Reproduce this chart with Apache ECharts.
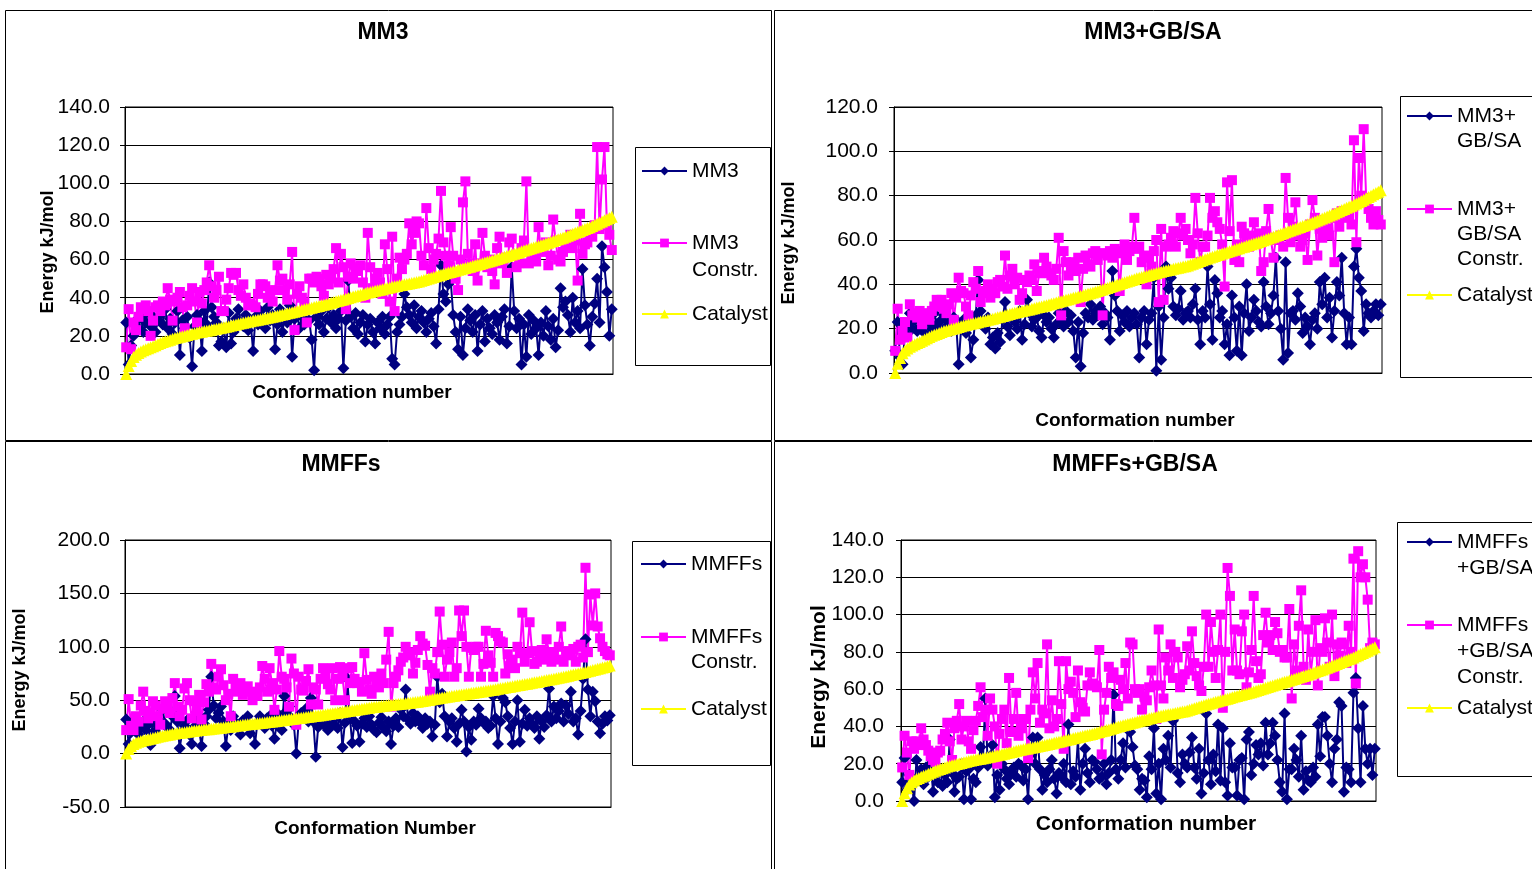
<!DOCTYPE html>
<html><head><meta charset="utf-8">
<script src="https://cdn.jsdelivr.net/npm/echarts@6/dist/echarts.min.js"></script>
<style>html,body{margin:0;padding:0;background:#fff}#c{width:1532px;height:869px}</style>
</head><body><div id="c"></div>
<script>
// ---------- DATA ----------
const catalyst = [
0,4.2,6.8,8.9,10.1,11.0,11.8,12.4,13.0,13.5,
14.0,14.6,15.1,15.7,16.2,16.8,17.2,17.6,18.0,18.5,
18.9,19.2,19.5,19.8,20.1,20.4,20.8,21.1,21.4,21.7,
22.0,22.2,22.5,22.7,22.9,23.2,23.5,23.7,24.0,24.3,
24.5,24.8,25.1,25.4,25.7,26.0,26.3,26.6,26.9,27.2,
27.5,27.7,28.0,28.2,28.5,28.7,29.0,29.2,29.5,29.8,
30.0,30.3,30.6,30.9,31.2,31.5,31.8,32.1,32.4,32.7,
33.0,33.3,33.6,33.9,34.2,34.5,34.8,35.1,35.4,35.7,
36.0,36.3,36.7,37.0,37.4,37.7,38.1,38.4,38.8,39.1,
39.5,39.9,40.2,40.6,40.9,41.3,41.6,42.0,42.3,42.7,
43.0,43.3,43.6,43.9,44.2,44.5,44.8,45.1,45.4,45.7,
46.0,46.2,46.5,46.7,47.0,47.2,47.5,47.7,48.0,48.2,
48.5,48.9,49.3,49.7,50.1,50.5,50.9,51.3,51.7,52.1,
52.5,52.8,53.2,53.5,53.9,54.2,54.6,54.9,55.3,55.6,
56.0,56.3,56.7,57.0,57.4,57.7,58.1,58.4,58.8,59.1,
59.5,59.9,60.3,60.7,61.1,61.5,61.9,62.3,62.7,63.1,
63.5,63.9,64.3,64.7,65.1,65.5,65.9,66.3,66.7,67.1,
67.5,67.9,68.4,68.8,69.3,69.7,70.2,70.6,71.1,71.5,
72.0,72.5,73.0,73.5,74.0,74.5,75.0,75.5,76.0,76.5,
77.0,77.6,78.2,78.8,79.4,80.0,80.6,81.2,81.8,82.5];

const mm3 = [
27,5,15,20,28,24,30,22,27,33,
25,30,22,28,31,26,34,24,29,21,
27,33,10,28,24,30,19,4,25,31,
28,12,33,26,48,35,30,27,15,17,
24,14,32,16,22,29,34,27,25,31,
23,27,12,30,26,33,29,24,35,28,
31,13,26,34,22,30,27,36,9,29,
32,24,30,26,35,28,18,2,30,26,
33,22,29,35,27,31,24,29,33,3,
28,49,30,24,32,21,27,31,17,26,
29,22,16,27,24,30,21,26,30,8,
5,22,26,30,42,35,31,27,36,24,
30,33,27,22,29,32,25,16,34,57,
42,38,47,49,31,22,13,30,10,24,
34,28,22,31,12,26,33,17,29,24,
21,31,27,18,30,34,16,25,56,33,
24,29,5,26,9,31,21,28,24,10,
27,20,33,25,18,29,14,23,45,35,
38,31,22,40,27,33,24,55,36,26,
15,30,37,50,27,67,56,43,20,34];

const mm3Constr = [
14,34,13,27,23,30,35,34,36,33,
20,28,35,36,33,38,36,45,39,28,
38,40,43,35,24,36,41,45,38,27,
43,37,44,48,57,46,40,44,51,33,
33,39,45,53,52,53,44,41,47,40,
36,37,36,35,42,47,47,46,40,43,
38,44,57,49,50,44,39,47,64,23,
42,46,40,37,27,50,50,48,51,50,
46,41,52,47,50,55,66,48,63,56,
34,51,58,50,56,54,57,48,40,74,
56,45,50,53,48,42,68,55,38,72,
33,50,61,55,60,63,79,68,74,80,
79,62,57,87,66,55,60,63,71,96,
69,62,57,77,62,50,44,60,90,101,
63,58,54,68,49,58,74,62,56,60,
54,47,66,72,58,61,53,69,71,62,
56,58,66,70,101,58,62,60,59,77,
64,66,69,57,62,81,70,60,59,64,
68,67,73,66,70,49,84,63,68,69,
74,72,78,119,76,102,119,78,73,65];

const mm3Gb = [
10,23,7,4,18,22,27,20,24,19,
25,21,18,26,23,20,27,22,19,24,
26,21,23,19,25,22,4,20,24,18,
22,7,15,26,42,28,23,20,25,13,
16,11,18,14,24,32,21,17,26,23,
20,28,15,22,33,27,21,24,25,19,
16,26,23,25,20,16,22,27,24,21,
28,23,26,19,7,23,3,18,27,25,
31,24,28,26,30,22,27,25,15,46,
35,28,19,26,23,28,21,25,27,22,
7,25,28,13,24,27,43,1,30,6,
25,48,38,43,30,26,29,37,24,27,
28,25,31,38,24,13,28,25,48,31,
15,42,36,25,28,13,22,8,35,25,
10,30,8,27,40,19,25,33,28,23,
21,41,30,22,27,35,52,28,20,6,
50,9,27,28,24,36,30,18,25,21,
13,24,27,20,41,31,43,25,34,16,
28,41,35,52,27,13,25,13,48,56,
43,37,19,31,27,25,28,31,26,31];

const mm3GbConstr = [
10,29,15,19,23,16,31,26,27,25,
28,22,26,27,24,28,30,33,32,33,
29,27,31,36,24,34,43,37,36,30,
26,35,41,38,46,32,36,37,40,34,
38,36,41,42,39,53,38,44,47,40,
43,33,36,42,41,44,42,49,37,45,
46,52,48,45,44,42,47,61,26,55,
50,44,48,50,46,52,32,47,53,49,
48,54,55,51,54,26,54,53,55,52,
56,55,37,54,58,51,55,57,70,56,
57,50,53,40,52,48,55,60,32,65,
33,57,58,61,64,57,63,70,62,65,
60,54,58,79,63,50,57,57,62,79,
70,73,68,65,58,39,86,64,87,51,
58,50,66,63,60,57,62,68,61,63,
46,50,64,74,60,52,61,60,62,57,
88,70,59,66,77,62,57,60,63,51,
67,78,70,53,65,61,69,65,62,70,
50,72,66,73,70,72,71,67,105,59,
97,80,110,79,74,70,67,73,69,67];

const mmffs = [
32,9,20,25,28,18,24,30,22,27,
8,33,21,26,30,41,28,24,22,35,
54,30,5,20,26,31,18,9,25,33,
22,7,28,35,41,72,45,33,38,44,
30,7,26,22,35,29,24,18,31,27,
35,19,26,9,29,35,30,24,33,35,
26,14,28,36,22,54,40,44,33,27,
0,31,38,35,42,30,52,30,-3,25,
33,28,35,22,30,27,33,24,38,6,
29,70,35,10,30,26,11,28,33,25,
35,27,22,20,29,34,24,21,30,9,
26,33,25,41,35,60,32,28,38,30,
35,29,24,33,28,30,16,27,72,48,
56,35,16,30,33,24,11,28,41,30,
2,25,13,30,27,42,33,29,30,24,
26,54,33,9,30,52,48,35,24,9,
30,50,11,28,41,26,33,28,24,35,
14,30,25,36,61,30,44,33,40,47,
30,45,37,58,30,33,18,40,70,107,
60,35,58,49,30,19,28,35,31,36];

const mmffsConstr = [
22,51,26,22,35,30,45,58,40,33,
38,49,45,35,27,42,49,44,38,52,
66,44,35,41,61,66,50,33,49,40,
55,32,48,65,58,84,62,60,72,79,
64,50,56,35,70,62,58,66,55,60,
63,58,50,57,54,62,82,70,58,80,
66,41,60,96,72,70,62,44,89,75,
27,72,60,59,68,79,46,62,60,46,
70,80,72,65,60,80,50,70,81,72,
50,80,66,81,70,66,67,58,94,69,
60,56,72,69,62,75,66,88,114,44,
66,72,78,86,90,100,95,92,75,85,
97,110,103,101,83,58,80,75,95,133,
102,72,88,95,104,72,80,134,110,134,
100,72,99,97,100,100,72,84,115,92,
85,72,113,110,105,104,75,93,82,88,
80,100,94,132,86,94,123,96,84,86,
93,97,88,107,95,86,95,88,100,119,
86,92,96,95,98,86,100,102,90,174,
95,149,120,150,119,108,100,96,93,92];

const mmffsGb = [
10,23,6,14,8,0,22,12,17,9,
18,13,20,5,15,10,17,8,14,10,
33,15,5,12,13,20,1,16,17,1,
12,10,18,29,22,55,19,24,30,2,
14,6,20,17,12,9,15,18,13,20,
19,11,17,1,25,34,20,34,17,6,
14,10,17,22,12,4,15,13,20,10,
41,9,16,13,33,6,20,28,15,10,
22,21,17,12,13,20,9,15,22,57,
17,12,22,31,18,39,37,29,19,17,
6,12,11,2,24,17,39,4,20,1,
28,22,35,18,43,45,15,10,25,20,
18,26,34,18,12,28,4,15,47,22,
9,25,16,41,11,39,10,3,31,18,
18,3,22,23,1,33,37,14,20,30,
25,31,19,42,25,31,42,35,22,10,
5,47,1,17,17,28,22,13,35,6,
16,11,10,18,13,41,24,45,45,35,
20,10,28,33,53,51,5,18,17,10,
58,66,39,10,51,28,20,28,14,28];

const mmffsGbConstr = [
18,35,26,14,32,28,32,30,39,33,
30,27,24,22,21,26,27,33,36,42,
32,22,39,43,52,33,40,43,32,28,
38,43,51,61,45,49,35,55,49,40,
20,36,44,49,31,66,37,44,58,35,
39,44,44,23,49,69,55,74,42,49,
47,84,39,54,40,44,75,52,28,75,
60,64,58,45,70,53,50,48,62,69,
63,62,61,81,25,49,58,72,66,69,
52,51,65,60,74,55,85,84,60,58,
60,49,56,54,61,70,62,44,92,62,
55,77,70,84,66,80,77,61,65,68,
83,70,91,74,67,62,59,72,100,72,
96,80,66,81,100,50,80,125,110,70,
92,70,68,91,100,61,69,81,110,75,
66,68,89,101,85,89,81,96,90,80,
81,77,77,103,55,84,70,94,113,72,
65,92,68,80,97,62,82,80,98,85,
72,100,67,84,78,85,84,74,94,80,
130,63,134,120,127,120,108,82,85,84];

const conformations = catalyst.map((_, i) => i + 1);

const panelTitles = ['MM3', 'MM3+GB/SA', 'MMFFs', 'MMFFs+GB/SA'];
const seriesNames = [
  ['MM3', 'MM3\nConstr.', 'Catalyst'],
  ['MM3+\nGB/SA', 'MM3+\nGB/SA\nConstr.', 'Catalyst'],
  ['MMFFs', 'MMFFs\nConstr.', 'Catalyst'],
  ['MMFFs\n+GB/SA', 'MMFFs\n+GB/SA\nConstr.', 'Catalyst']
];
const seriesData = [
  [mm3, mm3Constr, catalyst],
  [mm3Gb, mm3GbConstr, catalyst],
  [mmffs, mmffsConstr, catalyst],
  [mmffsGb, mmffsGbConstr, catalyst]
];
const yRanges = [[0, 140, 20], [0, 120, 20], [-50, 200, 50], [0, 140, 20]];
const xTitles = ['Conformation number', 'Conformation number', 'Conformation Number', 'Conformation number'];
const yTitle = 'Energy kJ/mol';

// ---------- LAYOUT ----------
const FONT = '"Liberation Sans", Arial, sans-serif';
const layout = [
  {grid:{left:125, top:107, width:488, height:267}, labelMargin:15, title:[383,33],
   xt:[352,393,19], yt:[48,252,18], lg:{left:641, ys:[171,243,314], lh:27, fs:21}, box:[635.5,147.5,135,218]},
  {grid:{left:894, top:107, width:488, height:266}, labelMargin:16, title:[1153,33],
   xt:[1135,421,19], yt:[789,243,18], lg:{left:1406, ys:[116,209,295], lh:25, fs:21}, box:[1400.5,96.5,200,281]},
  {grid:{left:125, top:540, width:486, height:267}, labelMargin:15, title:[341,465],
   xt:[375,829,19], yt:[20,670,18], lg:{left:640, ys:[564,637,709], lh:25, fs:21}, box:[632.5,541.5,138,224]},
  {grid:{left:901, top:540, width:475, height:261}, labelMargin:17, title:[1135,465],
   xt:[1146,824,21], yt:[819,677,21], lg:{left:1406, ys:[542,625,708], lh:26, fs:21}, box:[1397.5,522.5,200,254]}
];
const styles = [
  {symbol:'diamond', size:12, color:'#000080'},
  {symbol:'rect', size:10, color:'#FF00FF'},
  {symbol:'triangle', size:12, color:'#FFFF00'}
];

const grids = [], xAxes = [], yAxes = [], series = [], titles = [], legends = [], graphics = [];

// panel frames
[[5.5,10.5,766,430],[774.5,10.5,800,430],[5.5,441.5,766,500],[774.5,441.5,800,500]].forEach(r => {
  graphics.push({type:'rect', shape:{x:r[0], y:r[1], width:r[2], height:r[3]}, style:{fill:'none', stroke:'#000', lineWidth:1}, z:-1});
});

layout.forEach((L, p) => {
  grids.push(Object.assign({show:true, borderColor:'#000', borderWidth:1, backgroundColor:'#fff', containLabel:false}, L.grid));
  xAxes.push({type:'category', gridIndex:p, data:conformations, boundaryGap:true,
    axisLine:{show:true, onZero:false, lineStyle:{color:'#000', width:1}},
    axisTick:{show:false}, axisLabel:{show:false}, splitLine:{show:false}});
  const [mn, mx, st] = yRanges[p];
  yAxes.push({type:'value', gridIndex:p, min:mn, max:mx, interval:st,
    axisLine:{show:true, onZero:false, lineStyle:{color:'#000', width:1}},
    axisTick:{show:true, length:5, inside:false, lineStyle:{color:'#000'}},
    axisLabel:{fontSize:21, color:'#000', fontFamily:FONT, margin:L.labelMargin, formatter:v => v.toFixed(1)},
    splitLine:{show:true, lineStyle:{color:'#000', width:1}}});
  seriesNames[p].forEach((nm, k) => {
    const s = styles[k];
    series.push({type:'line', name:nm, xAxisIndex:p, yAxisIndex:p, data:seriesData[p][k],
      symbol:s.symbol, symbolSize:s.size, showAllSymbol:true,
      lineStyle:{color:s.color, width:2}, itemStyle:{color:s.color, borderWidth:0},
      emphasis:{disabled:true}, animation:false});
    const n = nm.split('\n').length;
    const pre = '\n'.repeat(n - 1);
    legends.push({left:L.lg.left, top:L.lg.ys[k] - (2*n - 1)*L.lg.lh/2, orient:'vertical', padding:0,
      itemWidth:45, itemHeight:11, itemGap:0, selectedMode:false, data:[{name:nm}],
      formatter: name => pre + name,
      textStyle:{fontSize:L.lg.fs, lineHeight:L.lg.lh, color:'#000', fontFamily:FONT}});
  });
  titles.push({text:panelTitles[p], left:L.title[0], top:L.title[1], textAlign:'center', textVerticalAlign:'middle', padding:0,
    textStyle:{fontSize:23, fontWeight:'bold', color:'#000', fontFamily:FONT}});
  graphics.push({type:'rect', shape:{x:L.box[0], y:L.box[1], width:L.box[2], height:L.box[3]}, style:{fill:'#fff', stroke:'#000', lineWidth:1}, z:-1});
  graphics.push({type:'text', x:L.xt[0], y:L.xt[1], style:{text:xTitles[p], fontSize:L.xt[2], fontWeight:'bold', fontFamily:FONT, fill:'#000', align:'center', verticalAlign:'middle', textAlign:'center', textVerticalAlign:'middle'}});
  graphics.push({type:'text', x:L.yt[0], y:L.yt[1], rotation:Math.PI/2, style:{text:yTitle, fontSize:L.yt[2], fontWeight:'bold', fontFamily:FONT, fill:'#000', align:'center', verticalAlign:'middle', textAlign:'center', textVerticalAlign:'middle'}});
});

const chart = echarts.init(document.getElementById('c'), null, {renderer:'canvas'});
chart.setOption({
  backgroundColor:'#fff',
  animation:false,
  title:titles, legend:legends, grid:grids, xAxis:xAxes, yAxis:yAxes, series:series,
  graphic:{elements:graphics}
});
</script></body></html>
